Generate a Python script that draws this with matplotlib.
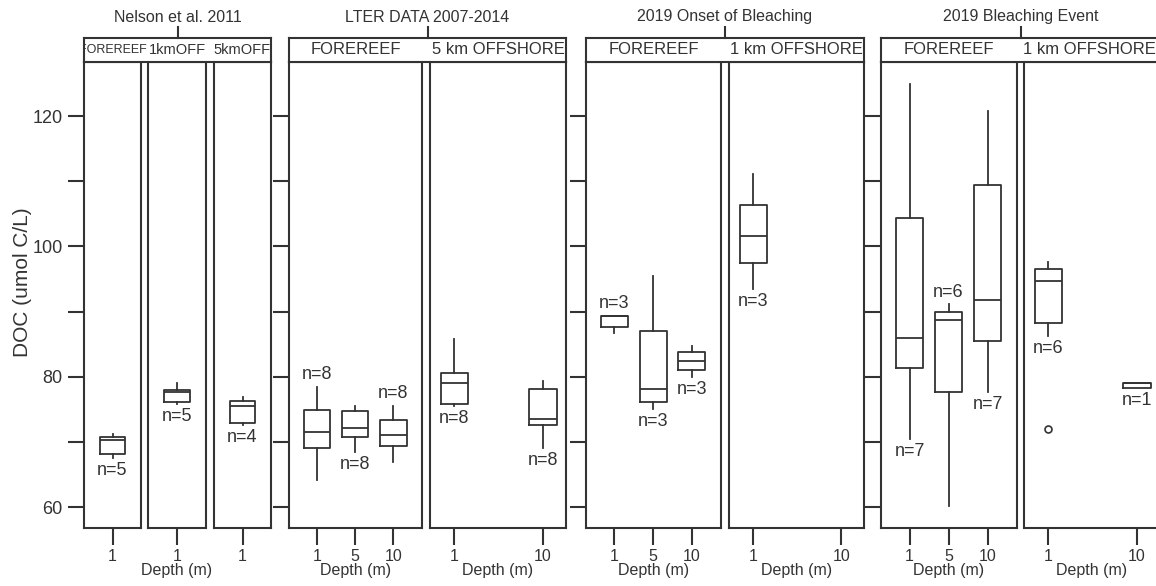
import numpy as np
import matplotlib
matplotlib.use('Agg')
import matplotlib.pyplot as plt

plt.rcParams['font.family'] = ['Liberation Sans', 'DejaVu Sans']

W, H = 1156, 586
INK = '#333333'

# ---- data ----
group_titles = ['Nelson et al. 2011', 'LTER DATA 2007-2014',
                '2019 Onset of Bleaching', '2019 Bleaching Event']
panel_group = [0, 0, 0, 1, 1, 2, 2, 3, 3]
panel_labels = ['FOREREEF', '1kmOFF', '5kmOFF',
                'FOREREEF', '5 km OFFSHORE',
                'FOREREEF', '1 km OFFSHORE',
                'FOREREEF', '1 km OFFSHORE']
panel_depths = [['1'], ['1'], ['1'],
                ['1', '5', '10'], ['1', '10'],
                ['1', '5', '10'], ['1', '10'],
                ['1', '5', '10'], ['1', '10']]

box_panel = [0, 1, 2, 3, 3, 3, 4, 4, 5, 5, 5, 6, 7, 7, 7, 8, 8]
box_depth = ['1', '1', '1', '1', '5', '10', '1', '10', '1', '5', '10', '1',
             '1', '5', '10', '1', '10']
whislo = [67.6, 75.8, 72.6, 64.2, 68.4, 67.0, 75.5, 69.0, 86.7, 75.0, 79.9, 93.5,
          70.4, 60.2, 77.7, 86.2, 78.3]
q1 = [68.2, 76.2, 72.9, 69.0, 70.7, 69.4, 75.9, 72.6, 87.6, 76.2, 81.1, 97.5,
      81.3, 77.7, 85.5, 88.2, 78.3]
med = [70.3, 77.7, 75.5, 71.6, 72.1, 71.1, 79.0, 73.6, 89.3, 78.1, 82.5, 101.6,
       86.0, 88.7, 91.8, 94.7, 79.0]
q3 = [70.8, 78.0, 76.3, 74.9, 74.8, 73.4, 80.6, 78.1, 89.3, 87.0, 83.8, 106.3,
      104.4, 90.0, 109.4, 96.5, 79.0]
whishi = [71.2, 79.1, 76.9, 78.5, 75.5, 75.5, 85.8, 79.3, 89.3, 95.5, 84.8, 111.1,
          124.9, 91.1, 120.8, 97.6, 79.0]
n_obs = [5, 5, 4, 8, 8, 8, 8, 8, 3, 3, 3, 3, 7, 6, 7, 6, 1]
n_above = [False, False, False, True, False, True, False, False, True, False, False,
           False, False, True, False, False, False]
outliers = {15: [72.0]}

# ---- layout (pixels of the 1156x586 canvas) ----
pan_px = [(84, 141), (148, 206), (214, 271), (289, 422), (430, 566),
          (586, 721), (729, 864), (881, 1017), (1024, 1160)]
top_px, bot_px = 62, 528
strip_top = 38

def fx(x):
    return x / W

def fy(y):
    return 1 - y / H

xpos = {1: {'1': 1}, 2: {'1': 1, '10': 3}, 3: {'1': 1, '5': 2, '10': 3}}
xlims = {1: (0.29, 1.71), 2: (0.45, 3.52), 3: (0.27, 3.75)}
bwidth = {1: 0.62, 2: 0.62, 3: 0.7}
nelson_size = [9, 10.5, 10.5]

fig = plt.figure(figsize=(W / 100, H / 100), dpi=100)

for p, (x0, x1) in enumerate(pan_px):
    ax = fig.add_axes([fx(x0), fy(bot_px), (x1 - x0) / W, (bot_px - top_px) / H])
    nd = len(panel_depths[p])
    ax.set_xlim(*xlims[nd])
    ax.set_ylim(56.8, 128.3)
    for s in ax.spines.values():
        s.set_linewidth(1.5)
        s.set_color(INK)

    idx = [i for i in range(len(box_panel)) if box_panel[i] == p]
    stats = [dict(whislo=whislo[i], q1=q1[i], med=med[i], q3=q3[i],
                  whishi=whishi[i], fliers=outliers.get(i, [])) for i in idx]
    pos = [xpos[nd][box_depth[i]] for i in idx]
    lp = dict(color=INK, linewidth=1.3)
    ax.bxp(stats, positions=pos, widths=bwidth[nd], showcaps=False,
           boxprops=lp, whiskerprops=lp, medianprops=lp,
           flierprops=dict(marker='o', markerfacecolor='none',
                           markeredgecolor=INK, markersize=5, markeredgewidth=1.2))
    for i, x in zip(idx, pos):
        if n_above[i]:
            ax.text(x, whishi[i] + 0.6, f'n={n_obs[i]}', ha='center', va='bottom',
                    fontsize=13, color=INK)
        else:
            ax.text(x, whislo[i] - 0.6, f'n={n_obs[i]}', ha='center', va='top',
                    fontsize=13, color=INK)

    ax.set_xticks([xpos[nd][d] for d in panel_depths[p]], panel_depths[p])
    ax.tick_params(axis='x', length=12, width=1.5, pad=3, labelsize=11.5,
                   colors=INK)
    first = p == 0 or panel_group[p] != panel_group[p - 1]
    if first:
        ax.set_yticks(range(60, 130, 10))
        ax.set_yticklabels(['60', '', '80', '', '100', '', '120'] if p == 0 else [])
        ax.tick_params(axis='y', length=11.5, width=1.5, pad=4, labelsize=13,
                       colors=INK)
    else:
        ax.set_yticks([])
    if p not in (0, 2):
        fig.text(fx((x0 + x1) / 2), fy(571), 'Depth (m)', ha='center', va='center',
                 fontsize=11.5, color=INK)

# strips and group titles
for g, title in enumerate(group_titles):
    ps = [p for p in range(len(pan_px)) if panel_group[p] == g]
    gx0, gx1 = pan_px[ps[0]][0], pan_px[ps[-1]][1]
    sax = fig.add_axes([fx(gx0), fy(top_px), (gx1 - gx0) / W, (top_px - strip_top) / H])
    sax.set_xlim(gx0, gx1)
    sax.set_ylim(0, 1)
    sax.set_xticks([])
    sax.set_yticks([])
    for s in sax.spines.values():
        s.set_linewidth(1.5)
        s.set_color(INK)
    for k, p in enumerate(ps):
        # centre on the visible part of the panel (the last one runs off the canvas)
        cx = (pan_px[p][0] + min(pan_px[p][1], W - 2)) / 2
        size = nelson_size[k] if g == 0 else 12
        sax.text(cx, 0.5, panel_labels[p], ha='center', va='center',
                 fontsize=size, color=INK, clip_on=True)
    gc = (gx0 + gx1) / 2
    fig.add_artist(plt.Line2D([fx(gc), fx(gc)], [fy(strip_top), fy(27)],
                              color=INK, linewidth=1.5))
    fig.text(fx(gc), fy(17), title, ha='center', va='center', fontsize=11.5, color=INK)

fig.text(fx(23), fy(282), 'DOC (umol C/L)', rotation=90, ha='center', va='center',
         fontsize=15, color=INK)

fig.savefig('out.png', dpi=100)
